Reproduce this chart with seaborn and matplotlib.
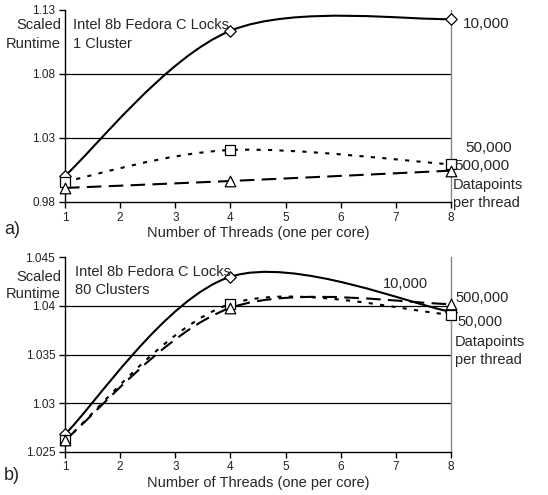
import numpy as np
import pandas as pd
import matplotlib
matplotlib.use("Agg")
import matplotlib.pyplot as plt
from matplotlib.path import Path
from matplotlib.patches import PathPatch
import seaborn as sns

threads = [1, 4, 8]
series_names = ["10,000", "50,000", "500,000"]

# panel a) 1 cluster
a_10k = [1.0005, 1.1138, 1.1230]
a_50k = [0.9960, 1.0206, 1.0094]
a_500k = [0.9910, 0.9964, 1.0045]

# panel b) 80 clusters
b_10k = [1.0268, 1.0430, 1.0394]
b_50k = [1.0262, 1.0402, 1.0391]
b_500k = [1.0262, 1.0398, 1.0402]

a_yticks = [0.98, 1.03, 1.08, 1.13]
b_yticks = [1.025, 1.03, 1.035, 1.04, 1.045]
x_ticks = [1, 2, 3, 4, 5, 6, 7, 8]

sns.set_theme(style="white")
plt.rcParams['font.family'] = ['Liberation Sans', 'DejaVu Sans']

fig = plt.figure(figsize=(5.48, 4.95), dpi=100)
axA = fig.add_axes([65/548, 1-202/495, 386/548, 192/495])
axB = fig.add_axes([65/548, 1-451.7/495, 386/548, 194.4/495])

styles = {
    "10,000": dict(ls="-", marker="D", ms=34),
    "50,000": dict(ls=(0, (2, 3.5)), marker="s", ms=48),
    "500,000": dict(ls=(0, (7, 3.5)), marker="^", ms=58),
}


def smooth_path(xs, ys):
    pts = np.column_stack([xs, ys]).astype(float)
    n = len(pts)
    verts = [pts[0]]
    codes = [Path.MOVETO]
    for i in range(n - 1):
        p0 = pts[i - 1] if i > 0 else pts[i]
        p1 = pts[i]
        p2 = pts[i + 1]
        p3 = pts[i + 2] if i + 2 < n else pts[i + 1]
        c1 = p1 + (p2 - p0) / 6.0
        c2 = p2 - (p3 - p1) / 6.0
        verts += [c1, c2, p2]
        codes += [Path.CURVE4] * 3
    return Path(verts, codes)


def draw_panel(ax, data, ylim, yticks):
    df = pd.DataFrame({
        "threads": threads * 3,
        "runtime": sum(data, []),
        "series": sum([[s] * 3 for s in series_names], []),
    })
    for name, vals in zip(series_names, data):
        st = styles[name]
        p = PathPatch(smooth_path(threads, vals), facecolor="none", edgecolor="black",
                      lw=1.5, ls=st["ls"], zorder=3)
        ax.add_patch(p)
    for name in series_names:
        st = styles[name]
        sub = df[df["series"] == name]
        sns.scatterplot(data=sub, x="threads", y="runtime", ax=ax, marker=st["marker"],
                        s=st["ms"], facecolor="white", edgecolor="black", linewidth=0.9,
                        zorder=4, legend=False, clip_on=False)
    ax.set_xlim(1, 8)
    ax.set_ylim(*ylim)
    ax.set_yticks(yticks)
    ax.set_yticklabels([f"{t:g}" for t in yticks])
    ax.set_xticks(x_ticks)
    for t in yticks[1:-1]:
        ax.axhline(t, color="black", lw=0.9, zorder=1)
    ax.spines["top"].set_visible(False)
    ax.spines["right"].set_color("#888888")
    ax.spines["right"].set_linewidth(1.0)
    ax.spines["left"].set_color("black")
    ax.spines["bottom"].set_color("black")
    ax.spines["left"].set_linewidth(1.0)
    ax.spines["bottom"].set_linewidth(1.0)
    ax.tick_params(axis="both", which="both", direction="out", length=4, width=1.0,
                   color="black", labelsize=8.5, labelcolor="#222222", left=True, bottom=True, pad=3)
    ax.tick_params(axis="x", pad=3)
    ax.set_xlabel("Number of Threads (one per core)", fontsize=10.5, labelpad=2)
    ax.set_ylabel("")


draw_panel(axA, [a_10k, a_50k, a_500k], (0.98, 1.13), a_yticks)
draw_panel(axB, [b_10k, b_50k, b_500k], (1.025, 1.045), b_yticks)

fs = 10.5
# Panel a texts
fig.text(61/548, 1-25/495, "Scaled", ha="right", va="center", fontsize=fs)
fig.text(61/548, 1-44/495, "Runtime", ha="right", va="center", fontsize=fs)
fig.text(73/548, 1-25/495, "Intel 8b Fedora C Locks", ha="left", va="center", fontsize=fs)
fig.text(73/548, 1-44/495, "1 Cluster", ha="left", va="center", fontsize=fs)
fig.text(463/548, 1-24/495, "10,000", ha="left", va="center", fontsize=11)
fig.text(465/548, 1-148/495, "50,000", ha="left", va="center", fontsize=11)
fig.text(454/548, 1-166/495, "500,000", ha="left", va="center", fontsize=11)
fig.text(453/548, 1-185/495, "Datapoints", ha="left", va="center", fontsize=fs)
fig.text(453/548, 1-203/495, "per thread", ha="left", va="center", fontsize=fs)
fig.text(4/548, 1-229/495, "a)", ha="left", va="center", fontsize=13)

# Panel b texts
fig.text(61/548, 1-277/495, "Scaled", ha="right", va="center", fontsize=fs)
fig.text(61/548, 1-294/495, "Runtime", ha="right", va="center", fontsize=fs)
fig.text(75/548, 1-272/495, "Intel 8b Fedora C Locks", ha="left", va="center", fontsize=fs)
fig.text(75/548, 1-290/495, "80 Clusters", ha="left", va="center", fontsize=fs)
fig.text(383/548, 1-284/495, "10,000", ha="left", va="center", fontsize=fs)
fig.text(455/548, 1-298/495, "500,000", ha="left", va="center", fontsize=fs)
fig.text(457/548, 1-322/495, "50,000", ha="left", va="center", fontsize=fs)
fig.text(455/548, 1-342/495, "Datapoints", ha="left", va="center", fontsize=fs)
fig.text(455/548, 1-360/495, "per thread", ha="left", va="center", fontsize=fs)
fig.text(4/548, 1-476/495, "b)", ha="left", va="center", fontsize=13)

fig.savefig("out.png", dpi=100, facecolor="white")
